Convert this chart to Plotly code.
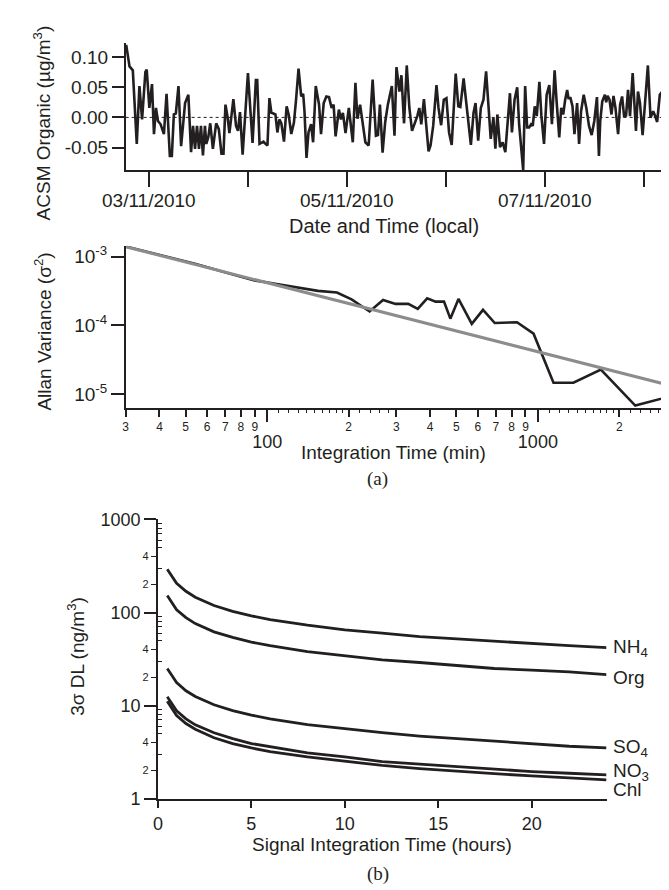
import numpy as np
import pandas as pd
import plotly.graph_objects as go

# ---------------- data ----------------
# (a) top: ACSM organic signal; hours relative to 2010-11-03 00:00 (local)
org_hours = [-5.53,-4.73,-3.93,-2.97,-2.33,-1.68,-0.88,-0.56,0.08,0.72,1.20,1.68,2.17,2.81,3.61,4.25,5.05,5.53,6.02,6.50,
             7.14,7.78,8.74,9.54,10.19,10.67,11.15,11.63,12.11,12.59,13.07,13.56,13.88,14.36,14.84,15.48,16.28,16.92,17.56,18.05,
             18.53,19.01,19.49,20.45,21.09,21.57,22.05,22.69,23.98,25.10,25.90,26.23,
             26.79,27.27,27.75,28.23,28.71,29.19,29.67,30.15,30.64,31.12,31.60,32.08,32.72,33.36,33.85,34.49,35.13,35.61,
             36.25,36.89,37.37,37.69,38.18,38.66,39.30,39.78,40.42,41.22,41.70,42.35,42.99,43.63,44.27,44.75,45.23,46.03,
             46.52,47.00,47.64,48.44,48.92,49.40,50.04,50.53,51.17,51.65,52.45,53.25,54.21,55.01,55.50,55.98,56.62,57.26,
             57.90,58.87,59.51,59.99,
             60.71,61.19,61.83,62.48,63.12,63.76,64.56,65.04,65.52,66.00,66.65,67.29,67.77,68.25,68.89,69.69,70.18,70.82,
             71.46,72.10,72.74,73.38,74.35,74.99,75.47,76.27,76.91,77.39,78.03,78.67,79.16,79.80,80.44,81.08,81.72,82.36,
             82.84,83.49,83.97,84.45,85.09,85.73,86.38,87.50,87.98,88.62,89.26,89.74,90.39,90.71,91.19,91.67,92.15,92.63,
             93.03,93.51,94.00,94.64,95.12,95.76,96.40,97.04,97.68,98.33,98.81,99.45,99.93,100.41,100.89,101.37,101.69,102.18,
             102.66,103.14,103.78,104.26,104.74,105.38,106.02,106.67,107.31,107.95,108.59,109.07,109.39,109.88,110.52,110.84,
             111.16,111.64,112.12,112.60,113.08,113.72,114.21,114.69,115.17,115.65,116.13,116.61,117.25,118.05,118.54,119.02,
             119.66,120.46,120.94,121.58,122.22,122.71,123.19,123.83,124.79,125.27,125.91,126.40,126.88,127.36,127.84]
org_values = [0.1205,0.0847,0.0782,-0.0440,0.0521,-0.0033,0.0755,0.0793,0.0157,0.0554,-0.0277,0.0157,-0.0060,-0.0114,-0.0277,0.0391,-0.0641,-0.0641,0.0049,0.0065,
              0.0521,-0.0478,0.0239,0.0375,-0.0576,-0.0141,-0.0521,-0.0141,-0.0521,-0.0141,-0.0630,-0.0141,-0.0440,-0.0331,-0.0098,-0.0521,-0.0098,-0.0195,-0.0603,-0.0603,
              0.0212,0.0022,-0.0261,0.0304,-0.0141,-0.0223,0.0087,-0.0619,0.0738,-0.0424,0.0619,0.0619,
              -0.0440,-0.0424,-0.0402,-0.0440,-0.0467,0.0320,0.0076,0.0065,0.0049,-0.0250,-0.0033,-0.0098,-0.0402,0.0185,0.0049,-0.0277,-0.0087,0.0266,
              0.0809,0.0348,0.0391,0.0103,-0.0673,-0.0250,-0.0114,-0.0413,0.0521,0.0212,-0.0277,0.0239,0.0348,0.0337,0.0157,0.0212,-0.0315,0.0130,
              -0.0033,0.0076,-0.0261,0.0157,-0.0087,-0.0413,0.0576,-0.0022,0.0212,-0.0060,-0.0413,-0.0467,0.0630,-0.0304,-0.0293,0.0212,-0.0586,-0.0076,
              0.0212,0.0521,-0.0304,0.0836,
              0.0429,0.0700,-0.0098,0.0863,0.0157,-0.0223,-0.0087,0.0022,0.0157,-0.0114,0.0304,-0.0277,-0.0565,-0.0467,-0.0141,0.0538,0.0157,-0.0130,
              0.0293,0.0320,-0.0250,-0.0456,0.0728,0.0185,0.0174,0.0646,0.0239,0.0022,-0.0456,0.0076,0.0239,-0.0386,0.0157,0.0293,0.0766,0.0130,
              -0.0358,-0.0005,-0.0521,0.0049,-0.0494,-0.0413,-0.0576,0.0402,-0.0250,0.0293,0.0500,-0.0130,-0.0619,-0.0874,0.0521,-0.0168,-0.0168,-0.0114,
              -0.0141,0.0185,0.0022,0.0592,0.0033,-0.0440,0.0375,0.0538,-0.0114,0.0782,0.0266,-0.0331,0.0157,0.0049,0.0293,0.0456,0.0320,0.0320,
              0.0185,-0.0277,0.0239,-0.0440,0.0103,0.0375,0.0157,-0.0141,-0.0293,-0.0060,0.0337,-0.0641,-0.0060,0.0266,0.0375,0.0250,
              0.0358,0.0293,0.0049,0.0358,0.0157,-0.0277,0.0212,0.0348,0.0022,0.0033,0.0456,0.0022,0.0738,-0.0223,0.0429,0.0239,
              -0.0293,0.0483,0.0863,-0.0005,0.0103,0.0022,-0.0076,0.0375,0.0467,0.0662,-0.0402,-0.0087,-0.0114,-0.0141,-0.0098]
org_start = "2010-11-03 00:00"

# (a) bottom: Allan variance
allan_tau = [30.3,40.8,54.5,69.8,89.8,107,133,154,181,205,239,268,298,332,360,390,419,450,475,509,570,627,693,760,837,964,1142,1353,1709,2290,3250]
allan_var = [1.39e-3,1.045e-3,7.78e-4,5.92e-4,4.50e-4,4.03e-4,3.50e-4,3.17e-4,3.00e-4,2.39e-4,1.59e-4,2.33e-4,2.05e-4,2.05e-4,1.74e-4,
             2.47e-4,2.21e-4,2.21e-4,1.25e-4,2.42e-4,1.05e-4,1.68e-4,1.08e-4,1.09e-4,1.11e-4,7.55e-5,1.46e-5,1.46e-5,2.27e-5,6.8e-6,9.8e-6]
fit_tau = [30, 3266]
fit_var = [1.39e-3, 1.26e-5]

# (b) detection limits (ng/m3) vs integration time (hours)
dl_hours = [0.5,1,1.5,2,3,4,5,6,8,10,12,14,16,18,20,22,24]
dl_NH4 = [292,206,169,146,119,103,92,84,73,65,60,55,52,49,46,44,42]
dl_Org = [152,107,88,76,62,54,48,44,38,34,31,29,27,25,24,23,21.5]
dl_SO4 = [25,17.7,14.4,12.5,10.2,8.8,7.9,7.2,6.25,5.6,5.1,4.7,4.4,4.1,3.85,3.65,3.5]
dl_NO3 = [12.4,8.8,7.2,6.2,5.1,4.4,3.9,3.6,3.1,2.8,2.5,2.35,2.2,2.05,1.95,1.87,1.8]
dl_Chl = [11.1,7.8,6.4,5.55,4.5,3.9,3.5,3.2,2.8,2.5,2.27,2.1,1.96,1.85,1.75,1.66,1.59]
species = ["NH<sub>4</sub>", "Org", "SO<sub>4</sub>", "NO<sub>3</sub>", "Chl"]

date_ticks = ["2010-11-03","2010-11-04","2010-11-05","2010-11-06","2010-11-07","2010-11-08"]
date_labels = ["03/11/2010","","05/11/2010","","07/11/2010",""]

# ---------------- figure ----------------
W, H = 669, 890
def px(x): return x / W
def py(y): return 1 - y / H

SANS = "Liberation Sans, Arial, Helvetica, sans-serif"
SERIF = "Liberation Serif, Times New Roman, serif"
BLACK = "#231f20"

times = pd.Timestamp(org_start) + pd.to_timedelta(org_hours, unit="h")

fig = go.Figure()
fig.add_trace(go.Scatter(x=times, y=org_values, mode="lines", line=dict(color=BLACK, width=2.6),
                         xaxis="x", yaxis="y", showlegend=False))
fig.add_trace(go.Scatter(x=allan_tau, y=allan_var, mode="lines", line=dict(color=BLACK, width=2.6),
                         xaxis="x2", yaxis="y2", showlegend=False))
fig.add_trace(go.Scatter(x=fit_tau, y=fit_var, mode="lines", line=dict(color="#8c8c8c", width=3),
                         xaxis="x2", yaxis="y2", showlegend=False))
# empty traces to make the overlay axes render
fig.add_trace(go.Scatter(x=[], y=[], xaxis="x3", yaxis="y2", showlegend=False))
fig.add_trace(go.Scatter(x=[], y=[], xaxis="x4", yaxis="y5", showlegend=False))

dl_sets = [dl_NH4, dl_Org, dl_SO4, dl_NO3, dl_Chl]
for vals in dl_sets:
    fig.add_trace(go.Scatter(x=dl_hours, y=vals, mode="lines", line=dict(color=BLACK, width=2.8),
                             xaxis="x4", yaxis="y4", showlegend=False))

axis_common = dict(showgrid=False, zeroline=False, showline=True, linecolor=BLACK, linewidth=1.5,
                   ticks="outside", tickcolor=BLACK, tickwidth=1.5)

top_y0, top_y1 = 155.7, 26
mid_y0, mid_y1 = 398.8, 233
bot_y0, bot_y1 = 798.5, 513

fig.update_layout(
    width=W, height=H, margin=dict(l=0, r=0, t=0, b=0),
    paper_bgcolor="white", plot_bgcolor="white",
    font=dict(family=SANS, color=BLACK, size=18),
    xaxis=dict(**axis_common, type="date", domain=[px(113.5), 1], anchor="y",
               range=["2010-11-02 18:20", "2010-11-08 08:00"],
               tickmode="array", tickvals=date_ticks, ticktext=[""] * len(date_ticks), ticklen=15),
    yaxis=dict(**axis_common, domain=[py(top_y0), py(top_y1)], anchor="x",
               range=[-0.0877, 0.1229], tickmode="array",
               tickvals=[-0.05, 0, 0.05, 0.10], ticktext=["-0.05", "0.00", "0.05", "0.10"],
               ticklen=12, tickfont=dict(size=19)),
    xaxis2=dict(**axis_common, type="log", domain=[px(113.5), 1], anchor="y2",
                range=[np.log10(30), 3.514], tickmode="array",
                tickvals=[30,40,50,60,70,80,90,200,300,400,500,600,700,800,900,2000,3000],
                ticktext=["3","4","5","6","7","8","9","2","3","4","5","6","7","8","9","2","3"],
                ticklen=7, tickfont=dict(size=12),
                minor=dict(tickmode="array", ticks="outside", ticklen=3.5, tickcolor=BLACK, tickwidth=1,
                           tickvals=[110,120,130,140,150,160,170,180,190,220,240,260,280,
                                     1100,1200,1300,1400,1500,1600,1700,1800,1900,2200,2400,2600,2800])),
    xaxis3=dict(type="log", overlaying="x2", anchor="y2", range=[np.log10(30), 3.514],
                showgrid=False, zeroline=False, showline=False, ticks="outside", ticklen=13,
                tickcolor=BLACK, tickwidth=1.5, tickmode="array", tickvals=[100, 1000],
                ticktext=["100", "1000"], tickfont=dict(size=18), ticklabelstandoff=5),
    yaxis2=dict(**axis_common, type="log", domain=[py(mid_y0), py(mid_y1)], anchor="x2",
                range=[-5.2, -2.843], tickmode="array", tickvals=[1e-5, 1e-4, 1e-3],
                ticktext=["10<sup>-5</sup>", "10<sup>-4</sup>", "10<sup>-3</sup>"],
                ticklen=13, tickfont=dict(size=19)),
    xaxis4=dict(**axis_common, domain=[px(146), px(598)], anchor="y4", range=[0, 24],
                tickmode="array", tickvals=[0, 5, 10, 15, 20], ticklen=8, tickfont=dict(size=18)),
    yaxis4=dict(**axis_common, type="log", domain=[py(bot_y0), py(bot_y1)], anchor="x4",
                range=[0, 3], tickmode="array", tickvals=[1, 10, 100, 1000],
                ticktext=["1", "10", "100", "1000"], ticklen=12, tickfont=dict(size=18),
                minor=dict(tickmode="array", ticks="inside", ticklen=4, tickcolor=BLACK, tickwidth=1,
                           tickvals=[3,5,6,7,8,9,30,50,60,70,80,90,300,500,600,700,800,900])),
    yaxis5=dict(type="log", overlaying="y4", anchor="x4", side="left", range=[0, 3],
                showgrid=False, zeroline=False, showline=False, ticks="outside", ticklen=6,
                tickcolor=BLACK, tickwidth=1, tickmode="array",
                tickvals=[2, 4, 20, 40, 200, 400], ticktext=["2", "4", "2", "4", "2", "4"],
                tickfont=dict(size=11)),
)

# zero reference line in the top panel
fig.add_shape(type="line", xref="x domain", yref="y", x0=0, x1=1, y0=0, y1=0,
              line=dict(color=BLACK, width=1, dash="dot"))

ann = []
def A(text, x, y, size=19, angle=0, family=SANS, **kw):
    d = dict(text=text, x=px(x), y=py(y), xref="paper", yref="paper", showarrow=False,
             font=dict(size=size, family=family, color=BLACK), textangle=angle,
             xanchor="center", yanchor="middle")
    d.update(kw)
    ann.append(d)

# date tick labels of the top panel
for dt, lab in zip(date_ticks, date_labels):
    if lab:
        ann.append(dict(text=lab, x=dt, y=py(187), xref="x", yref="paper", showarrow=False,
                        xanchor="center", yanchor="middle", font=dict(size=19, family=SANS, color=BLACK)))

A("ACSM Organic (µg/m<sup>3</sup>)", 29, 107, angle=-90)
A("Date and Time (local)", 374, 213, size=20)
A("Allan Variance (σ<sup>2</sup>)", 30, 321, angle=-90)
A("Integration Time (min)", 383, 444)
A("(a)", 367, 472, size=19, family=SERIF)
A("3σ DL (ng/m<sup>3</sup>)", 64, 653, angle=-90)
A("Signal Integration Time (hours)", 372, 845)
A("(b)", 368, 876, size=19, family=SERIF)

label_shift = [0, -3, 0, 3, -10]
for name, vals, sh in zip(species, dl_sets, label_shift):
    ann.append(dict(text=name, x=dl_hours[-1], y=np.log10(vals[-1]), xref="x4", yref="y4",
                    showarrow=False, xanchor="left", yanchor="middle", xshift=4, yshift=sh,
                    font=dict(size=19, family=SANS, color=BLACK)))

fig.update_layout(annotations=ann)
fig.write_html("out.html")
